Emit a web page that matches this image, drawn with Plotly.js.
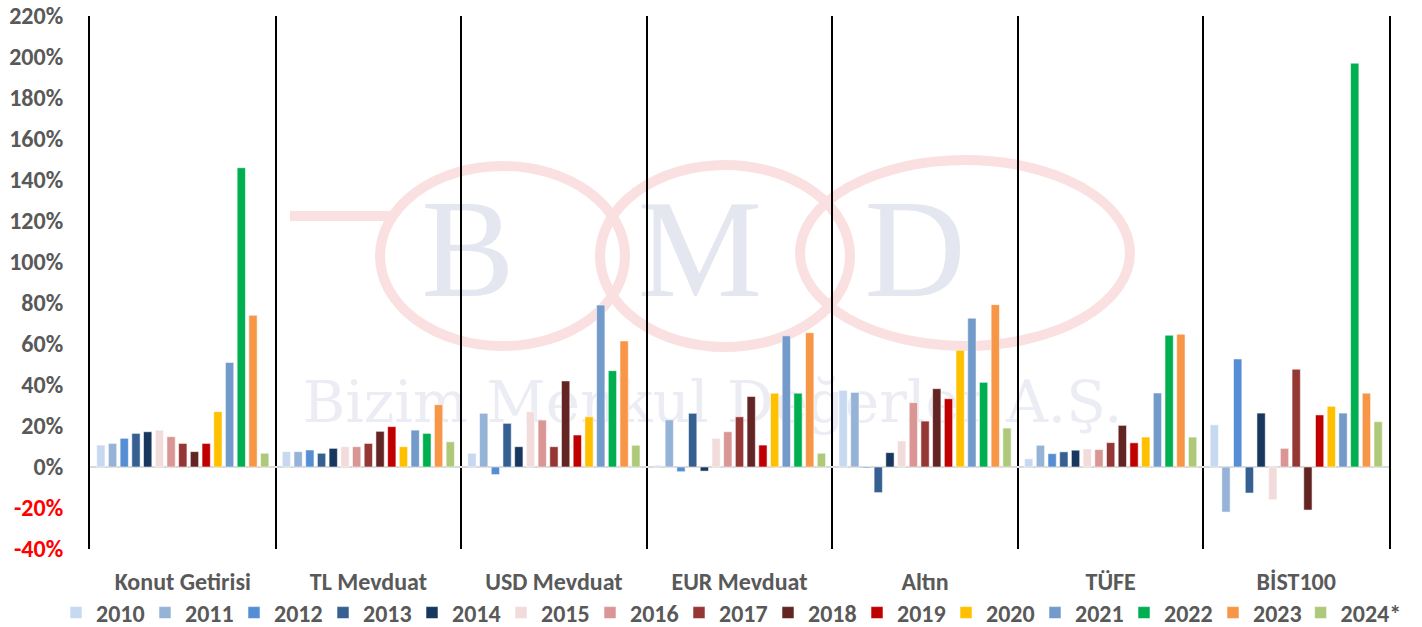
<!DOCTYPE html>
<html>
<head>
<meta charset="utf-8">
<script src="https://cdn.plot.ly/plotly-3.0.1.min.js"></script>
<style>html,body{margin:0;padding:0;background:#fff;}#chart{width:1422px;height:627px;}</style>
</head>
<body>
<div id="chart"></div>
<script>
const categories = ["Konut Getirisi","TL Mevduat","USD Mevduat","EUR Mevduat","Altın","TÜFE","BİST100"];
const years = ["2010","2011","2012","2013","2014","2015","2016","2017","2018","2019","2020","2021","2022","2023","2024*"];

const v2010 = [10.7, 7.5, 6.7, 0.8, 37.4, 4.0, 20.6];
const v2011 = [11.5, 7.5, 26.2, 23.0, 36.4, 10.6, -22.0];
const v2012 = [14.0, 8.3, -3.7, -2.3, -0.5, 6.5, 52.7];
const v2013 = [16.4, 6.7, 21.3, 26.2, -12.5, 7.4, -12.7];
const v2014 = [17.2, 9.1, 9.9, -2.0, 7.0, 8.2, 26.3];
const v2015 = [18.0, 9.9, 27.0, 14.0, 12.7, 8.8, -16.0];
const v2016 = [14.8, 9.9, 22.9, 17.2, 31.4, 8.5, 9.1];
const v2017 = [11.5, 11.5, 9.9, 24.5, 22.4, 11.9, 47.7];
const v2018 = [7.5, 17.4, 42.0, 34.4, 38.2, 20.3, -21.0];
const v2019 = [11.5, 19.7, 15.6, 10.7, 33.3, 11.8, 25.4];
const v2020 = [27.0, 9.9, 24.5, 36.0, 57.0, 14.6, 29.6];
const v2021 = [51.0, 18.0, 79.0, 64.0, 72.6, 36.1, 26.3];
const v2022 = [146.0, 16.4, 47.0, 36.0, 41.3, 64.3, 197.0];
const v2023 = [74.0, 30.4, 61.5, 65.5, 79.2, 64.8, 36.0];
const v2024 = [6.7, 12.3, 10.6, 6.7, 19.0, 14.6, 22.1];

const seriesValues = [v2010,v2011,v2012,v2013,v2014,v2015,v2016,v2017,v2018,v2019,v2020,v2021,v2022,v2023,v2024];
const colors = ["#C6D9F1","#95B3D7","#558ED5","#366092","#17375E","#F2DCDB","#D99694","#953735","#632523","#C00000","#FFC000","#729ACA","#00B050","#F79646","#AFC97A"];

const tickVals = [-40,-20,0,20,40,60,80,100,120,140,160,180,200,220];
const tickText = tickVals.map(v => v < 0 ? '<span style="color:#FF0000">' + v + '%</span>' : v + '%');

const watermarkLetters = ["B","M","D"];
const watermarkText = "Bizim Menkul Değerler A.Ş.";

const FONT = 'Carlito, "Liberation Sans", Arial, sans-serif';
const GREY = '#595959';
const FS = 24;

const traces = years.map((y, i) => ({
  type: 'bar',
  name: y,
  x: categories,
  y: seriesValues[i],
  legend: i === years.length - 1 ? 'legend2' : 'legend',
  marker: {color: colors[i], line: {color: 'rgba(255,255,255,0.55)', width: 1}},
  hovertemplate: '%{x} ' + y + ': %{y:.1f}%<extra></extra>'
}));

// plot area in pixels: x 90..1389, y 16..549
const L = 90, R = 1389, T = 16, B = 549;
function px(x){ return (x - L) / (R - L); }
function py(y){ return (B - y) / (B - T); }

const arcColor = '#FAE0E0';
const shapes = [
  {type:'circle', xref:'paper', yref:'paper', x0:px(380), x1:px(625), y0:py(346), y1:py(166), line:{color:arcColor, width:10}, layer:'below'},
  {type:'circle', xref:'paper', yref:'paper', x0:px(600), x1:px(850), y0:py(347), y1:py(165), line:{color:arcColor, width:10}, layer:'below'},
  {type:'circle', xref:'paper', yref:'paper', x0:px(800), x1:px(1130), y0:py(346), y1:py(160), line:{color:arcColor, width:10}, layer:'below'},
  {type:'line', xref:'paper', yref:'paper', x0:px(290), x1:px(395), y0:py(216), y1:py(216), line:{color:arcColor, width:10}, layer:'below'}
];

const serif = '"Liberation Serif", "DejaVu Serif", serif';
const letterX = [468, 700, 915];
watermarkLetters.forEach((t, i) => {
  shapes.push({type:'rect', xref:'paper', yref:'paper', layer:'below',
    x0:px(letterX[i]-80), x1:px(letterX[i]+80), y0:py(288), y1:py(178),
    line:{width:0, color:'rgba(0,0,0,0)'}, fillcolor:'rgba(0,0,0,0)',
    label:{text:t, textposition:'middle center', font:{family:serif, size:140, color:'#E5E7F0'}}});
});
shapes.push({type:'rect', xref:'paper', yref:'paper', layer:'below',
  x0:px(280), x1:px(1145), y0:py(425), y1:py(370),
  line:{width:0, color:'rgba(0,0,0,0)'}, fillcolor:'rgba(0,0,0,0)',
  label:{text:watermarkText, textposition:'middle center', font:{family:'"DejaVu Serif", serif', size:58, color:'#ECEDF4'}}});

const legendFont = {family: FONT, size: FS, color: GREY, weight: 'bold'};
const legendY = (B - 613) / (B - T);

const layout = {
  width: 1422, height: 627,
  margin: {l: L, r: 1422 - R, t: T, b: 627 - B, pad: 0, autoexpand: false},
  paper_bgcolor: '#FFFFFF', plot_bgcolor: '#FFFFFF',
  barmode: 'group', bargap: 0.054, bargroupgap: 0.29,
  font: {family: FONT, color: GREY},
  xaxis: {
    type: 'category', range: [-0.5, 6.5],
    tickson: 'boundaries', showgrid: true, gridcolor: '#000000', gridwidth: 2,
    ticks: '', showline: false, zeroline: false,
    tickfont: {family: FONT, size: FS, color: GREY, weight: 'bold'},
    ticklabelstandoff: 16
  },
  yaxis: {
    range: [-40, 220], tickvals: tickVals, ticktext: tickText,
    showgrid: false, zeroline: true, zerolinecolor: '#D9D9D9', zerolinewidth: 2,
    showline: true, linecolor: '#000000', linewidth: 2, mirror: true, ticks: '',
    layer: 'above traces',
    tickfont: {family: FONT, size: FS, color: GREY, weight: 'bold'},
    ticklabelstandoff: 20
  },
  legend: {
    orientation: 'h', xref: 'paper', x: px(56), xanchor: 'left',
    yref: 'paper', y: legendY, yanchor: 'middle',
    entrywidth: 44, entrywidthmode: 'pixels', itemwidth: 30,
    font: legendFont, traceorder: 'normal', bgcolor: 'rgba(0,0,0,0)'
  },
  legend2: {
    orientation: 'h', xref: 'paper', x: px(56 + 14 * 88.9), xanchor: 'left',
    yref: 'paper', y: legendY, yanchor: 'middle',
    itemwidth: 30,
    font: legendFont, bgcolor: 'rgba(0,0,0,0)'
  },
  shapes: shapes,
  showlegend: true
};

Plotly.newPlot('chart', traces, layout, {displayModeBar: false, staticPlot: true});
</script>
</body>
</html>
